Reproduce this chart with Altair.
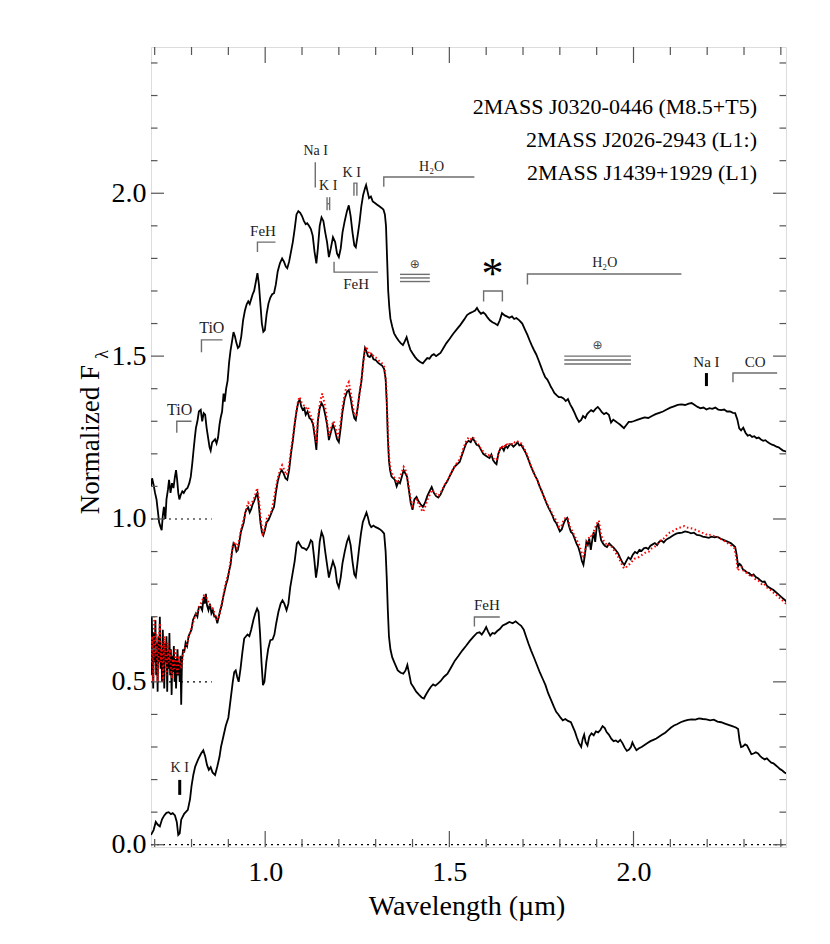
import altair as alt
import pandas as pd

SERIF = "Liberation Serif"
X_DOMAIN = [0.690, 2.414]
Y_DOMAIN = [-0.007, 2.449]
W, H = 635, 800

# ---- spectra (wavelength um, plotted normalized flux incl. offsets) ----
TOP = [
(0.690,1.100),(0.693,1.125),(0.697,1.105),(0.701,1.080),(0.705,1.060),(0.709,1.020),(0.712,0.990),
(0.716,0.975),(0.719,0.966),(0.722,1.010),(0.725,1.037),(0.729,1.000),(0.732,1.060),(0.736,1.090),
(0.739,1.120),(0.743,1.080),(0.747,1.110),(0.751,1.095),(0.755,1.130),(0.758,1.150),(0.761,1.120),
(0.764,1.080),(0.767,1.060),(0.771,1.075),(0.775,1.085),(0.779,1.080),(0.784,1.090),(0.789,1.095),
(0.794,1.110),(0.798,1.130),(0.802,1.170),(0.805,1.205),(0.809,1.250),(0.812,1.280),(0.816,1.300),
(0.820,1.330),(0.825,1.335),(0.829,1.300),(0.833,1.325),(0.837,1.320),(0.841,1.280),(0.845,1.250),
(0.849,1.220),(0.852,1.210),(0.856,1.235),(0.860,1.240),(0.864,1.245),(0.868,1.232),(0.872,1.250),
(0.876,1.290),(0.879,1.310),(0.883,1.330),(0.887,1.385),(0.890,1.360),(0.894,1.400),(0.898,1.425),
(0.902,1.480),(0.906,1.518),(0.910,1.545),(0.914,1.574),(0.918,1.560),(0.922,1.540),(0.926,1.525),
(0.930,1.530),(0.935,1.560),(0.940,1.610),(0.945,1.640),(0.950,1.660),(0.954,1.668),(0.958,1.660),
(0.962,1.675),(0.966,1.690),(0.970,1.700),(0.975,1.730),(0.979,1.755),(0.983,1.720),(0.987,1.660),
(0.991,1.600),(0.995,1.575),(0.999,1.580),(1.004,1.630),(1.009,1.662),(1.014,1.680),(1.019,1.690),
(1.024,1.693),(1.029,1.720),(1.034,1.760),(1.040,1.785),(1.046,1.800),(1.051,1.790),(1.056,1.775),
(1.060,1.770),(1.065,1.790),(1.070,1.820),(1.075,1.850),(1.080,1.890),(1.085,1.935),(1.090,1.945),
(1.095,1.940),(1.100,1.930),(1.105,1.915),(1.110,1.905),(1.114,1.908),(1.119,1.900),(1.124,1.890),
(1.129,1.870),(1.134,1.820),(1.139,1.785),(1.143,1.830),(1.148,1.900),(1.153,1.926),(1.158,1.915),
(1.163,1.880),(1.168,1.850),(1.173,1.804),(1.178,1.830),(1.184,1.865),(1.190,1.850),(1.195,1.815),
(1.200,1.804),(1.205,1.830),(1.210,1.880),(1.216,1.915),(1.222,1.945),(1.227,1.963),(1.232,1.930),
(1.237,1.880),(1.242,1.840),(1.246,1.834),(1.251,1.870),(1.256,1.910),(1.261,1.960),(1.266,1.995),
(1.271,2.015),(1.274,2.025),(1.278,2.005),(1.282,1.985),(1.287,1.990),(1.292,1.975),(1.298,1.970),
(1.304,1.965),(1.310,1.960),(1.316,1.955),(1.321,1.950),(1.325,1.935),(1.328,1.900),(1.331,1.800),
(1.334,1.700),(1.337,1.650),(1.340,1.615),(1.345,1.590),(1.350,1.570),(1.356,1.558),(1.362,1.548),
(1.368,1.540),(1.374,1.534),(1.379,1.545),(1.384,1.558),(1.389,1.538),(1.394,1.520),(1.400,1.509),
(1.407,1.497),(1.414,1.488),(1.421,1.482),(1.428,1.478),(1.434,1.486),(1.440,1.494),(1.446,1.492),
(1.452,1.502),(1.458,1.506),(1.464,1.500),(1.470,1.505),(1.476,1.510),(1.484,1.525),(1.492,1.540),
(1.500,1.552),(1.510,1.568),(1.520,1.582),(1.530,1.596),(1.540,1.612),(1.548,1.626),(1.556,1.632),
(1.564,1.636),(1.570,1.640),(1.575,1.648),(1.580,1.638),(1.586,1.630),(1.592,1.634),(1.598,1.628),
(1.604,1.618),(1.610,1.610),(1.617,1.604),(1.624,1.600),(1.631,1.595),(1.637,1.610),(1.643,1.632),
(1.650,1.625),(1.656,1.622),(1.663,1.618),(1.670,1.622),(1.676,1.614),(1.682,1.617),(1.690,1.610),
(1.698,1.600),(1.705,1.582),(1.712,1.565),(1.718,1.548),(1.724,1.532),(1.730,1.518),(1.736,1.505),
(1.742,1.488),(1.748,1.470),(1.754,1.452),(1.760,1.436),(1.766,1.428),(1.771,1.417),(1.776,1.405),
(1.780,1.398),(1.785,1.387),(1.791,1.380),(1.797,1.374),(1.804,1.374),(1.810,1.370),(1.816,1.362),
(1.822,1.368),(1.828,1.352),(1.834,1.340),(1.840,1.326),(1.846,1.310),(1.852,1.298),(1.858,1.304),
(1.863,1.316),(1.869,1.310),(1.874,1.322),(1.879,1.328),(1.885,1.334),(1.891,1.330),(1.897,1.338),
(1.903,1.344),(1.909,1.336),(1.914,1.328),(1.920,1.322),(1.926,1.326),(1.933,1.320),(1.939,1.296),
(1.945,1.305),(1.951,1.300),(1.957,1.295),(1.963,1.290),(1.969,1.284),(1.974,1.279),(1.980,1.288),
(1.987,1.298),(1.994,1.298),(2.000,1.300),(2.010,1.304),(2.020,1.308),(2.030,1.312),(2.040,1.310),
(2.050,1.316),(2.060,1.322),(2.070,1.326),(2.080,1.330),(2.090,1.336),(2.100,1.342),(2.110,1.346),
(2.120,1.350),(2.130,1.352),(2.140,1.350),(2.150,1.354),(2.158,1.356),(2.166,1.350),(2.174,1.344),
(2.182,1.340),(2.190,1.342),(2.198,1.336),(2.206,1.340),(2.214,1.338),(2.222,1.342),(2.230,1.336),
(2.238,1.334),(2.246,1.336),(2.254,1.330),(2.262,1.330),(2.270,1.326),(2.276,1.325),(2.282,1.305),
(2.287,1.278),(2.292,1.272),(2.298,1.280),(2.304,1.265),(2.310,1.256),(2.316,1.258),(2.322,1.252),
(2.328,1.254),(2.334,1.248),(2.340,1.250),(2.346,1.244),(2.352,1.240),(2.358,1.242),(2.364,1.236),
(2.370,1.232),(2.376,1.228),(2.382,1.226),(2.388,1.222),(2.394,1.220),(2.400,1.215),(2.406,1.210),
(2.412,1.208),(2.420,1.204)]

MID = [
(0.690,0.520),(0.692,0.700),(0.694,0.600),(0.696,0.480),(0.698,0.650),(0.700,0.560),(0.702,0.690),
(0.704,0.520),(0.706,0.620),(0.708,0.470),(0.710,0.640),(0.712,0.560),(0.714,0.700),(0.716,0.540),
(0.718,0.600),(0.720,0.500),(0.722,0.660),(0.724,0.580),(0.726,0.480),(0.728,0.620),(0.730,0.560),
(0.732,0.640),(0.734,0.470),(0.736,0.600),(0.738,0.540),(0.740,0.650),(0.742,0.520),(0.744,0.600),
(0.746,0.460),(0.748,0.580),(0.750,0.530),(0.752,0.610),(0.754,0.500),(0.756,0.570),(0.758,0.480),
(0.760,0.550),(0.762,0.600),(0.764,0.520),(0.766,0.560),(0.768,0.500),(0.770,0.580),(0.772,0.430),
(0.774,0.560),(0.777,0.600),(0.780,0.590),(0.784,0.620),(0.788,0.610),(0.792,0.640),(0.796,0.650),
(0.800,0.660),(0.804,0.690),(0.808,0.700),(0.812,0.710),(0.816,0.700),(0.820,0.730),(0.825,0.730),
(0.829,0.720),(0.833,0.760),(0.836,0.740),(0.839,0.770),(0.842,0.735),(0.846,0.720),(0.850,0.740),
(0.854,0.710),(0.858,0.720),(0.862,0.700),(0.866,0.700),(0.870,0.680),(0.874,0.700),(0.878,0.720),
(0.882,0.735),(0.886,0.760),(0.890,0.780),(0.894,0.800),(0.898,0.815),(0.902,0.840),(0.906,0.860),
(0.910,0.900),(0.914,0.926),(0.918,0.920),(0.922,0.900),(0.926,0.905),(0.930,0.930),(0.934,0.960),
(0.938,0.975),(0.942,0.990),(0.946,1.020),(0.950,1.030),(0.954,1.035),(0.958,1.020),(0.962,1.030),
(0.966,1.045),(0.970,1.055),(0.975,1.070),(0.979,1.080),(0.983,1.040),(0.987,0.990),(0.991,0.960),
(0.995,0.950),(0.999,0.965),(1.004,0.990),(1.009,0.997),(1.014,1.010),(1.019,1.025),(1.024,1.037),
(1.029,1.080),(1.034,1.115),(1.040,1.140),(1.045,1.150),(1.050,1.140),(1.055,1.125),(1.060,1.120),
(1.065,1.150),(1.070,1.200),(1.075,1.240),(1.080,1.290),(1.085,1.330),(1.090,1.360),(1.094,1.365),
(1.098,1.345),(1.102,1.335),(1.106,1.340),(1.110,1.320),(1.115,1.330),(1.120,1.310),(1.125,1.305),
(1.130,1.290),(1.135,1.250),(1.139,1.212),(1.143,1.300),(1.148,1.340),(1.153,1.356),(1.158,1.345),
(1.163,1.320),(1.168,1.290),(1.173,1.242),(1.178,1.265),(1.184,1.290),(1.190,1.270),(1.195,1.245),
(1.200,1.236),(1.205,1.280),(1.210,1.330),(1.216,1.370),(1.222,1.390),(1.227,1.396),(1.232,1.370),
(1.237,1.335),(1.242,1.310),(1.246,1.304),(1.251,1.340),(1.256,1.385),(1.261,1.420),(1.266,1.480),
(1.271,1.525),(1.275,1.515),(1.279,1.500),(1.284,1.497),(1.289,1.505),(1.294,1.490),(1.300,1.488),
(1.306,1.480),(1.312,1.475),(1.318,1.470),(1.323,1.460),(1.327,1.430),(1.330,1.360),(1.333,1.250),
(1.336,1.180),(1.339,1.150),(1.343,1.130),(1.348,1.125),(1.352,1.120),(1.357,1.100),(1.362,1.115),
(1.366,1.110),(1.371,1.130),(1.376,1.150),(1.380,1.141),(1.385,1.130),(1.390,1.090),(1.395,1.050),
(1.400,1.028),(1.405,1.060),(1.411,1.068),(1.416,1.055),(1.422,1.045),(1.428,1.037),(1.434,1.050),
(1.440,1.070),(1.446,1.085),(1.452,1.098),(1.458,1.080),(1.464,1.070),(1.470,1.066),(1.476,1.075),
(1.482,1.090),(1.488,1.105),(1.494,1.115),(1.500,1.129),(1.507,1.145),(1.514,1.160),(1.521,1.168),
(1.528,1.175),(1.534,1.195),(1.540,1.215),(1.546,1.233),(1.552,1.240),(1.558,1.236),(1.563,1.248),
(1.568,1.240),(1.574,1.228),(1.580,1.225),(1.586,1.212),(1.592,1.200),(1.598,1.195),(1.604,1.190),
(1.609,1.187),(1.614,1.198),(1.619,1.180),(1.624,1.172),(1.628,1.168),(1.633,1.200),(1.638,1.215),
(1.643,1.221),(1.648,1.210),(1.653,1.225),(1.658,1.218),(1.663,1.227),(1.668,1.230),(1.674,1.222),
(1.680,1.228),(1.685,1.236),(1.690,1.226),(1.695,1.228),(1.700,1.218),(1.705,1.208),(1.710,1.196),
(1.716,1.178),(1.722,1.160),(1.728,1.145),(1.734,1.130),(1.739,1.120),(1.745,1.100),(1.751,1.085),
(1.757,1.068),(1.763,1.050),(1.769,1.035),(1.775,1.022),(1.780,1.010),(1.785,0.995),(1.790,0.988),
(1.795,0.975),(1.800,0.962),(1.805,0.968),(1.810,0.985),(1.815,0.998),(1.820,1.003),(1.825,0.978),
(1.830,0.960),(1.835,0.955),(1.840,0.940),(1.845,0.925),(1.850,0.914),(1.855,0.895),(1.860,0.870),
(1.864,0.859),(1.868,0.890),(1.872,0.930),(1.876,0.920),(1.880,0.940),(1.884,0.905),(1.888,0.935),
(1.892,0.960),(1.896,0.930),(1.900,0.975),(1.904,0.988),(1.908,0.960),(1.912,0.935),(1.917,0.925),
(1.922,0.918),(1.928,0.914),(1.934,0.925),(1.940,0.918),(1.946,0.912),(1.952,0.904),(1.958,0.895),
(1.964,0.880),(1.970,0.866),(1.975,0.859),(1.980,0.870),(1.986,0.882),(1.992,0.876),(1.998,0.890),
(2.004,0.899),(2.010,0.895),(2.016,0.905),(2.022,0.902),(2.028,0.910),(2.034,0.912),(2.040,0.908),
(2.046,0.918),(2.052,0.922),(2.058,0.926),(2.064,0.920),(2.070,0.930),(2.076,0.934),(2.082,0.928),
(2.088,0.936),(2.094,0.940),(2.100,0.944),(2.108,0.950),(2.116,0.955),(2.124,0.957),(2.132,0.958),
(2.140,0.962),(2.148,0.960),(2.156,0.956),(2.164,0.958),(2.172,0.951),(2.180,0.950),(2.188,0.946),
(2.196,0.944),(2.204,0.942),(2.212,0.946),(2.220,0.944),(2.228,0.945),(2.236,0.940),(2.244,0.936),
(2.252,0.932),(2.258,0.929),(2.264,0.926),(2.270,0.920),(2.276,0.914),(2.280,0.890),(2.284,0.855),
(2.288,0.862),(2.292,0.858),(2.297,0.845),(2.302,0.842),(2.308,0.836),(2.314,0.834),(2.320,0.826),
(2.326,0.830),(2.332,0.822),(2.338,0.818),(2.344,0.812),(2.350,0.807),(2.356,0.808),(2.362,0.795),
(2.368,0.790),(2.374,0.786),(2.380,0.782),(2.386,0.776),(2.392,0.770),(2.398,0.764),(2.404,0.758),
(2.410,0.752),(2.416,0.746),(2.420,0.742)]

RED = [
(0.690,0.560),(0.693,0.640),(0.696,0.500),(0.699,0.700),(0.702,0.580),(0.705,0.650),(0.708,0.500),
(0.711,0.620),(0.714,0.680),(0.717,0.560),(0.720,0.620),(0.723,0.500),(0.726,0.640),(0.729,0.580),
(0.732,0.520),(0.735,0.620),(0.738,0.560),(0.741,0.600),(0.744,0.540),(0.747,0.510),(0.750,0.570),
(0.753,0.540),(0.756,0.600),(0.759,0.560),(0.762,0.520),(0.765,0.580),(0.768,0.560),(0.772,0.540),
(0.776,0.580),(0.780,0.600),(0.786,0.610),(0.792,0.635),(0.798,0.660),(0.804,0.680),(0.810,0.705),
(0.816,0.715),(0.822,0.735),(0.828,0.745),(0.834,0.765),(0.840,0.760),(0.846,0.745),(0.852,0.730),
(0.858,0.725),(0.864,0.705),(0.870,0.690),(0.876,0.705),(0.882,0.740),(0.888,0.775),(0.894,0.810),
(0.900,0.830),(0.906,0.870),(0.912,0.920),(0.918,0.930),(0.924,0.910),(0.930,0.940),(0.936,0.975),
(0.942,1.000),(0.948,1.030),(0.954,1.050),(0.960,1.040),(0.966,1.055),(0.972,1.070),(0.978,1.095),
(0.983,1.060),(0.988,1.000),(0.993,0.955),(0.998,0.965),(1.004,1.000),(1.010,1.010),(1.016,1.020),
(1.022,1.050),(1.028,1.090),(1.034,1.125),(1.040,1.150),(1.046,1.165),(1.052,1.150),(1.058,1.135),
(1.064,1.160),(1.070,1.210),(1.076,1.260),(1.082,1.310),(1.088,1.355),(1.093,1.375),(1.098,1.360),
(1.104,1.350),(1.110,1.340),(1.116,1.345),(1.122,1.320),(1.128,1.310),(1.134,1.270),(1.139,1.235),
(1.144,1.320),(1.150,1.365),(1.155,1.385),(1.160,1.360),(1.165,1.330),(1.170,1.280),(1.174,1.255),
(1.180,1.285),(1.186,1.300),(1.192,1.275),(1.198,1.250),(1.204,1.290),(1.210,1.345),(1.216,1.385),
(1.222,1.410),(1.227,1.420),(1.232,1.390),(1.238,1.345),(1.243,1.318),(1.248,1.320),(1.253,1.360),
(1.258,1.400),(1.263,1.445),(1.268,1.495),(1.273,1.530),(1.278,1.520),(1.283,1.505),(1.289,1.510),
(1.295,1.498),(1.301,1.495),(1.307,1.488),(1.313,1.482),(1.319,1.476),(1.324,1.465),(1.328,1.420),
(1.331,1.340),(1.334,1.240),(1.337,1.180),(1.341,1.150),(1.346,1.135),(1.352,1.125),(1.358,1.110),
(1.364,1.125),(1.370,1.140),(1.376,1.160),(1.381,1.150),(1.387,1.120),(1.393,1.075),(1.399,1.040),
(1.405,1.055),(1.411,1.060),(1.417,1.045),(1.423,1.030),(1.429,1.022),(1.435,1.040),(1.441,1.060),
(1.447,1.075),(1.453,1.090),(1.459,1.082),(1.465,1.075),(1.471,1.072),(1.477,1.082),(1.483,1.095),
(1.490,1.110),(1.497,1.122),(1.504,1.140),(1.511,1.155),(1.518,1.168),(1.525,1.178),(1.532,1.195),
(1.539,1.220),(1.546,1.240),(1.552,1.250),(1.558,1.245),(1.564,1.252),(1.570,1.240),(1.576,1.232),
(1.582,1.222),(1.588,1.212),(1.594,1.205),(1.600,1.198),(1.606,1.195),(1.612,1.200),(1.618,1.188),
(1.624,1.180),(1.630,1.185),(1.636,1.212),(1.642,1.225),(1.648,1.218),(1.654,1.232),(1.660,1.225),
(1.666,1.235),(1.672,1.228),(1.678,1.236),(1.684,1.240),(1.690,1.232),(1.696,1.232),(1.702,1.220),
(1.708,1.205),(1.714,1.188),(1.720,1.168),(1.726,1.150),(1.732,1.135),(1.738,1.120),(1.744,1.102),
(1.750,1.088),(1.756,1.070),(1.762,1.055),(1.768,1.040),(1.774,1.028),(1.780,1.015),(1.786,1.002),
(1.792,0.994),(1.798,0.975),(1.804,0.978),(1.810,0.995),(1.816,1.005),(1.822,1.000),(1.828,0.975),
(1.834,0.962),(1.840,0.948),(1.846,0.935),(1.852,0.922),(1.858,0.900),(1.864,0.885),(1.870,0.910),
(1.876,0.935),(1.882,0.950),(1.888,0.945),(1.894,0.968),(1.900,0.985),(1.906,0.995),(1.912,0.950),
(1.918,0.935),(1.924,0.925),(1.930,0.918),(1.936,0.922),(1.942,0.912),(1.948,0.902),(1.954,0.892),
(1.960,0.880),(1.966,0.866),(1.972,0.852),(1.978,0.848),(1.984,0.858),(1.990,0.862),(1.996,0.870),
(2.002,0.878),(2.010,0.880),(2.018,0.886),(2.026,0.892),(2.034,0.898),(2.042,0.900),(2.050,0.910),
(2.058,0.915),(2.066,0.925),(2.074,0.935),(2.082,0.940),(2.090,0.950),(2.098,0.958),(2.106,0.962),
(2.114,0.968),(2.122,0.972),(2.130,0.975),(2.138,0.978),(2.146,0.974),(2.154,0.972),(2.162,0.970),
(2.170,0.966),(2.178,0.962),(2.186,0.958),(2.194,0.955),(2.202,0.950),(2.210,0.952),(2.218,0.948),
(2.226,0.946),(2.234,0.940),(2.242,0.936),(2.250,0.930),(2.258,0.924),(2.266,0.918),(2.274,0.910),
(2.279,0.880),(2.283,0.842),(2.288,0.850),(2.294,0.852),(2.300,0.838),(2.306,0.835),(2.312,0.830),
(2.318,0.824),(2.324,0.826),(2.330,0.816),(2.336,0.812),(2.342,0.808),(2.348,0.800),(2.354,0.802),
(2.360,0.792),(2.366,0.786),(2.372,0.782),(2.378,0.776),(2.384,0.770),(2.390,0.764),(2.396,0.758),
(2.402,0.752),(2.408,0.746),(2.414,0.740),(2.420,0.734)]

BOT = [
(0.690,0.030),(0.697,0.045),(0.703,0.070),(0.708,0.062),(0.714,0.056),(0.720,0.078),(0.726,0.090),
(0.732,0.098),(0.738,0.100),(0.744,0.094),(0.749,0.097),(0.755,0.090),(0.760,0.070),(0.764,0.030),
(0.768,0.035),(0.772,0.077),(0.780,0.095),(0.790,0.107),(0.796,0.140),(0.800,0.180),(0.805,0.215),
(0.810,0.240),(0.818,0.262),(0.826,0.280),(0.832,0.290),(0.837,0.272),(0.842,0.245),(0.847,0.230),
(0.852,0.238),(0.857,0.222),(0.864,0.214),(0.870,0.240),(0.876,0.270),(0.880,0.300),(0.886,0.330),
(0.893,0.365),(0.900,0.390),(0.906,0.445),(0.912,0.500),(0.916,0.530),(0.920,0.535),(0.924,0.515),
(0.928,0.500),(0.933,0.540),(0.938,0.590),(0.943,0.633),(0.948,0.640),(0.952,0.645),(0.957,0.640),
(0.962,0.660),(0.968,0.690),(0.973,0.710),(0.978,0.725),(0.982,0.715),(0.986,0.650),(0.990,0.560),
(0.994,0.490),(0.998,0.500),(1.003,0.560),(1.008,0.600),(1.014,0.628),(1.020,0.630),(1.025,0.645),
(1.030,0.680),(1.036,0.715),(1.042,0.740),(1.047,0.750),(1.052,0.740),(1.058,0.720),(1.063,0.740),
(1.068,0.790),(1.074,0.830),(1.080,0.870),(1.086,0.925),(1.090,0.930),(1.095,0.920),(1.100,0.912),
(1.106,0.910),(1.112,0.905),(1.118,0.915),(1.124,0.935),(1.128,0.930),(1.133,0.880),(1.138,0.820),
(1.143,0.860),(1.148,0.930),(1.153,0.960),(1.158,0.945),(1.163,0.900),(1.168,0.860),(1.173,0.820),
(1.178,0.845),(1.184,0.870),(1.190,0.850),(1.195,0.805),(1.200,0.790),(1.205,0.820),(1.210,0.865),
(1.216,0.900),(1.222,0.930),(1.227,0.945),(1.232,0.920),(1.237,0.870),(1.242,0.830),(1.246,0.822),
(1.250,0.860),(1.255,0.910),(1.260,0.955),(1.265,0.990),(1.270,1.005),(1.275,1.020),(1.279,1.005),
(1.283,0.985),(1.288,0.975),(1.294,0.980),(1.300,0.975),(1.306,0.972),(1.312,0.968),(1.318,0.962),
(1.323,0.955),(1.327,0.900),(1.330,0.820),(1.333,0.720),(1.336,0.640),(1.340,0.600),(1.345,0.575),
(1.352,0.556),(1.360,0.535),(1.368,0.528),(1.375,0.525),(1.381,0.535),(1.386,0.552),(1.390,0.530),
(1.396,0.495),(1.402,0.485),(1.410,0.470),(1.418,0.460),(1.425,0.452),(1.431,0.449),(1.437,0.462),
(1.444,0.475),(1.450,0.485),(1.456,0.492),(1.462,0.488),(1.468,0.494),(1.476,0.502),(1.485,0.515),
(1.495,0.525),(1.505,0.545),(1.515,0.565),(1.525,0.580),(1.535,0.596),(1.545,0.610),(1.555,0.625),
(1.565,0.638),(1.575,0.650),(1.582,0.652),(1.588,0.645),(1.594,0.655),(1.600,0.668),(1.605,0.655),
(1.611,0.642),(1.617,0.650),(1.623,0.648),(1.630,0.656),(1.637,0.662),(1.645,0.673),(1.654,0.678),
(1.663,0.684),(1.672,0.680),(1.680,0.686),(1.688,0.678),(1.695,0.672),(1.702,0.660),(1.708,0.640),
(1.715,0.617),(1.722,0.596),(1.730,0.574),(1.738,0.551),(1.746,0.528),(1.754,0.508),(1.761,0.490),
(1.768,0.466),(1.776,0.445),(1.784,0.423),(1.790,0.408),(1.796,0.400),(1.802,0.390),(1.808,0.382),
(1.815,0.386),(1.822,0.380),(1.830,0.376),(1.836,0.360),(1.841,0.347),(1.846,0.330),(1.852,0.312),
(1.858,0.300),(1.862,0.325),(1.866,0.338),(1.870,0.315),(1.875,0.305),(1.880,0.332),(1.886,0.342),
(1.892,0.336),(1.898,0.348),(1.904,0.345),(1.910,0.352),(1.916,0.364),(1.922,0.358),(1.927,0.346),
(1.933,0.338),(1.940,0.325),(1.946,0.318),(1.952,0.320),(1.958,0.315),(1.964,0.322),(1.970,0.312),
(1.976,0.298),(1.982,0.288),(1.988,0.292),(1.993,0.300),(1.997,0.314),(2.002,0.302),(2.008,0.290),
(2.015,0.296),(2.022,0.300),(2.030,0.306),(2.038,0.312),(2.046,0.318),(2.054,0.322),(2.062,0.326),
(2.070,0.332),(2.078,0.338),(2.086,0.344),(2.094,0.352),(2.102,0.360),(2.110,0.366),(2.118,0.370),
(2.128,0.376),(2.138,0.380),(2.148,0.383),(2.158,0.385),(2.168,0.384),(2.178,0.388),(2.188,0.386),
(2.198,0.385),(2.208,0.382),(2.218,0.384),(2.228,0.378),(2.238,0.376),(2.248,0.372),(2.258,0.368),
(2.268,0.364),(2.278,0.360),(2.284,0.355),(2.288,0.320),(2.292,0.300),(2.297,0.302),(2.303,0.308),
(2.308,0.305),(2.314,0.292),(2.320,0.278),(2.326,0.280),(2.332,0.284),(2.338,0.280),(2.344,0.272),
(2.350,0.266),(2.356,0.262),(2.362,0.265),(2.368,0.258),(2.374,0.252),(2.380,0.250),(2.386,0.244),
(2.392,0.238),(2.398,0.232),(2.404,0.228),(2.410,0.222),(2.416,0.218),(2.420,0.214)]

LEGEND_LABELS = ["2MASS J0320-0446 (M8.5+T5)", "2MASS J2026-2943 (L1:)", "2MASS J1439+1929 (L1)"]

# zero-level reference lines: (x start, x end, level)
ZERO_LINES = [(0.69, 0.855, 1.0), (0.69, 0.855, 0.5), (0.69, 2.414, 0.0)]

# feature brackets (thin gray polylines), each a list of (x, y)
BRACKETS = [
    [(0.760, 1.265), (0.760, 1.300), (0.800, 1.300)],
    [(0.827, 1.512), (0.827, 1.550), (0.884, 1.550)],
    [(0.979, 1.820), (0.979, 1.850), (1.028, 1.850)],
    [(1.136, 2.018), (1.136, 2.095)],
    [(1.168, 1.948), (1.168, 1.988)],
    [(1.175, 1.948), (1.175, 1.988)],
    [(1.168, 1.968), (1.175, 1.968)],
    [(1.241, 1.992), (1.241, 2.031), (1.249, 2.031), (1.249, 1.992)],
    [(1.322, 2.020), (1.322, 2.050), (1.568, 2.050)],
    [(1.187, 1.790), (1.187, 1.758), (1.306, 1.758)],
    [(1.366, 1.751), (1.447, 1.751)],
    [(1.366, 1.740), (1.447, 1.740)],
    [(1.366, 1.729), (1.447, 1.729)],
    [(1.593, 1.668), (1.593, 1.700), (1.644, 1.700), (1.644, 1.668)],
    [(1.712, 1.720), (1.712, 1.752), (2.130, 1.752)],
    [(1.812, 1.500), (1.993, 1.500)],
    [(1.812, 1.488), (1.993, 1.488)],
    [(1.812, 1.476), (1.993, 1.476)],
    [(2.270, 1.420), (2.270, 1.448), (2.390, 1.448)],
    [(1.568, 0.670), (1.568, 0.699), (1.637, 0.699)],
]
# strong single-line markers (thick black bars): (x, y bottom, y top)
BARS = [(2.198, 1.408, 1.448), (0.768, 0.153, 0.199)]

# feature labels: (x, y, text, font size)
FEATURES = [
    (0.768, 1.335, "TiO", 16), (0.855, 1.585, "TiO", 16), (0.994, 1.883, "FeH", 15),
    (1.137, 2.130, "Na I", 14), (1.171, 2.022, "K I", 14), (1.235, 2.062, "K I", 14),
    (1.452, 2.080, "H\u2082O", 14), (1.247, 1.720, "FeH", 15), (1.922, 1.785, "H\u2082O", 14),
    (2.198, 1.482, "Na I", 15), (2.330, 1.482, "CO", 15), (0.768, 0.236, "K I", 14),
    (1.602, 0.735, "FeH", 15),
]
EARTH = [(1.406, 1.783), (1.902, 1.533)]
STAR = [(1.617, 1.709)]

X_MAJOR = [1.0, 1.5, 2.0]
X_MINOR = [0.7, 0.8, 0.9, 1.1, 1.2, 1.3, 1.4, 1.6, 1.7, 1.8, 1.9, 2.1, 2.2, 2.3, 2.4]
Y_MAJOR = [0.0, 0.5, 1.0, 1.5, 2.0]
Y_MINOR = [0.1, 0.2, 0.3, 0.4, 0.6, 0.7, 0.8, 0.9, 1.1, 1.2, 1.3, 1.4, 1.6, 1.7, 1.8, 1.9, 2.1, 2.2, 2.3, 2.4]

# ---------------- build ----------------
xs = alt.Scale(domain=X_DOMAIN, nice=False, zero=False)
ys = alt.Scale(domain=Y_DOMAIN, nice=False, zero=False)
X_AXIS = alt.Axis(values=X_MAJOR, format=".1f", ticks=False, domain=False, grid=False,
                  labelFont=SERIF, labelFontSize=28, labelPadding=11, labelColor="black", title=None)
Y_AXIS = alt.Axis(values=Y_MAJOR, format=".1f", ticks=False, domain=False, grid=False,
                  labelFont=SERIF, labelFontSize=28, labelPadding=5, labelColor="black", title=None)


def X(f):
    return alt.X(f"{f}:Q", scale=xs, axis=X_AXIS)


def Y(f):
    return alt.Y(f"{f}:Q", scale=ys, axis=Y_AXIS)


def spec_df(pairs):
    return pd.DataFrame(pairs, columns=["wl", "flux"])


layers = []
for pairs in (TOP, MID, BOT):
    layers.append(alt.Chart(spec_df(pairs)).mark_line(color="black", strokeWidth=1.8, clip=True).encode(
        x=X("wl"), y=Y("flux")))
layers.append(alt.Chart(spec_df(RED)).mark_line(color="#ff0000", strokeWidth=2, strokeDash=[1.5, 2.5],
                                                clip=True).encode(x=X("wl"), y=Y("flux")))

zl = pd.DataFrame(ZERO_LINES, columns=["x0", "x1", "lev"])
layers.append(alt.Chart(zl).mark_rule(color="black", strokeWidth=1.2, strokeDash=[2, 4]).encode(
    x=X("x0"), x2="x1", y=Y("lev")))

rows = []
for i, br in enumerate(BRACKETS):
    for j, (bx, by) in enumerate(br):
        rows.append({"id": i, "ord": j, "bx": bx, "by": by})
layers.append(alt.Chart(pd.DataFrame(rows)).mark_line(color="#6e6e6e", strokeWidth=1.4).encode(
    x=X("bx"), y=Y("by"), detail="id:N", order="ord:Q"))

bars = pd.DataFrame(BARS, columns=["bx", "y0", "y1"])
layers.append(alt.Chart(bars).mark_rule(color="black", strokeWidth=3).encode(
    x=X("bx"), y=Y("y0"), y2="y1"))

feat = pd.DataFrame(FEATURES, columns=["fx", "fy", "txt", "size"])
layers.append(alt.Chart(feat).mark_text(font=SERIF, color="#222", baseline="middle", align="center").encode(
    x=X("fx"), y=Y("fy"), text="txt:N", size=alt.Size("size:Q", scale=None, legend=None)))

earth = pd.DataFrame(EARTH, columns=["fx", "fy"])
layers.append(alt.Chart(earth).mark_text(text="\u2295", font="DejaVu Sans", fontSize=12, color="#444",
                                         baseline="middle").encode(x=X("fx"), y=Y("fy")))
star = pd.DataFrame(STAR, columns=["fx", "fy"])
layers.append(alt.Chart(star).mark_text(text="*", font=SERIF, fontSize=44, color="black",
                                        baseline="alphabetic").encode(x=X("fx"), y=Y("fy")))

# inward ticks on all four sides
for vals, ln in ((X_MAJOR, 16), (X_MINOR, 8)):
    d = pd.DataFrame({"v": vals})
    layers.append(alt.Chart(d).mark_rule(color="#555", strokeWidth=1.2).encode(
        x=X("v"), y=alt.value(H), y2=alt.value(H - ln)))
    layers.append(alt.Chart(d).mark_rule(color="#555", strokeWidth=1.2).encode(
        x=X("v"), y=alt.value(0), y2=alt.value(ln)))
for vals, ln in ((Y_MAJOR, 13), (Y_MINOR, 6.5)):
    d = pd.DataFrame({"v": vals})
    layers.append(alt.Chart(d).mark_rule(color="#555", strokeWidth=1.2).encode(
        y=Y("v"), x=alt.value(0), x2=alt.value(ln)))
    layers.append(alt.Chart(d).mark_rule(color="#555", strokeWidth=1.2).encode(
        y=Y("v"), x=alt.value(W), x2=alt.value(W - ln)))

# legend text (right aligned, stacked)
leg = pd.DataFrame({"label": LEGEND_LABELS, "k": range(len(LEGEND_LABELS))})
layers.append(alt.Chart(leg).transform_calculate(py="60 + 33*datum.k").mark_text(
    font=SERIF, fontSize=22, align="right", baseline="middle", color="black").encode(
    x=alt.value(606), y=alt.Y("py:Q", scale=None, axis=None), text="label:N"))

# axis titles
layers.append(alt.Chart(pd.DataFrame({"t": ["Wavelength (\u00b5m)"]})).mark_text(
    font=SERIF, fontSize=28, baseline="alphabetic", align="center", color="black").encode(
    x=alt.value(316), y=alt.value(868), text="t:N"))
layers.append(alt.Chart(pd.DataFrame({"t": ["Normalized F"]})).mark_text(
    font=SERIF, fontSize=27, baseline="middle", align="right", angle=270, color="black").encode(
    x=alt.value(-60), y=alt.value(318), text="t:N"))
layers.append(alt.Chart(pd.DataFrame({"t": ["\u03bb"]})).mark_text(
    font=SERIF, fontSize=18, baseline="middle", align="right", angle=270, color="black").encode(
    x=alt.value(-48), y=alt.value(303), text="t:N"))

chart = alt.layer(*layers).properties(
    width=W, height=H,
    autosize=alt.AutoSizeParams(type="none"),
    padding={"left": 143, "top": 39, "right": 30, "bottom": 90},
).configure_view(stroke="#555", strokeWidth=1.5).configure(background="white")

chart.save("out.html", embed_options={"renderer": "svg", "actions": False})
